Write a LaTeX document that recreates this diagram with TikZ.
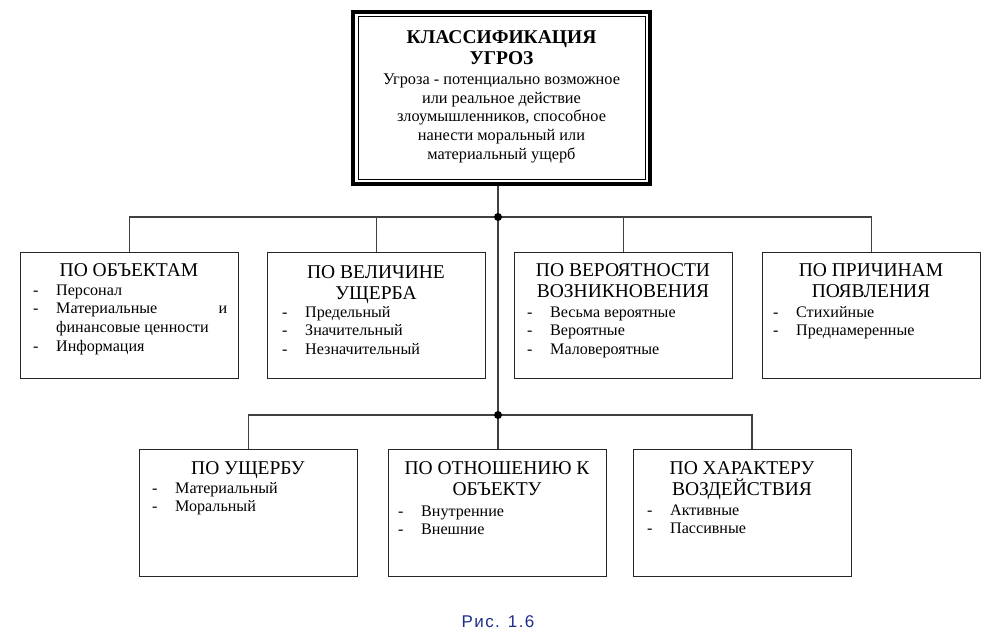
\documentclass[tikz,border=0pt]{standalone}
\usepackage{fontspec}
\setmainfont{Liberation Serif}
\newfontfamily\capfont[LetterSpace=8]{Liberation Sans}
\usetikzlibrary{calc}
\definecolor{capblue}{HTML}{1F2F8F}
\newcommand\dsh{\makebox[23pt][l]{-}}
\tikzset{
 catbox/.style={draw=black!85, line width=1.1pt, minimum width=218pt, minimum height=126pt, inner sep=0pt, anchor=north west},
 headtxt/.style={anchor=base, inner sep=0pt, font=\fontsize{19.5}{20.5}\selectfont},
 itemtxt/.style={anchor=base west, inner sep=0pt, font=\fontsize{16.1}{18.7}\selectfont},
 conn/.style={draw=black!75, line width=1.1pt},
}
\begin{document}
\begin{tikzpicture}[x=1pt,y=-1pt]
\fill[white] (0,0) rectangle (1000,639);
\useasboundingbox (0,0) rectangle (1000,639);
% top box
\node[draw, line width=3pt, minimum width=298pt, minimum height=173pt, inner sep=0pt] (top) at (501.5,98) {};
\draw[line width=1.6pt] ($(top.north west)+(3.3,3.3)$) rectangle ($(top.south east)+(-3.3,-3.3)$);
\draw[line width=1pt] ($(top.north west)+(7,7)$) rectangle ($(top.south east)+(-7,-7)$);
\node[anchor=base, inner sep=0pt, font=\bfseries\fontsize{19.5}{21}\selectfont] (tt) at (501.5,43.5)
 {\begin{tabular}[t]{@{}c@{}}КЛАССИФИКАЦИЯ\\УГРОЗ\end{tabular}};
\node[anchor=base, inner sep=0pt, font=\fontsize{16.3}{18.75}\selectfont] (tb) at (501.5,84.5)
 {\begin{tabular}[t]{@{}c@{}}Угроза - потенциально возможное\\или реальное действие\\злоумышленников, способное\\нанести моральный или\\материальный ущерб\end{tabular}};
% row 1
\node[catbox] (b1) at (20,252) {};
\node[catbox] (b2) at (267,252) {};
\node[catbox] (b3) at (514,252) {};
\node[catbox] (b4) at (762,252) {};
\node[headtxt] (h1) at (129,276.5) {ПО ОБЪЕКТАМ};
\node[headtxt] (h2) at (376,278.5) {\begin{tabular}[t]{@{}c@{}}\smash{ПО ВЕЛИЧИНЕ}\\\smash{УЩЕРБА}\end{tabular}};
\node[headtxt] (h3) at (623,276.5) {\begin{tabular}[t]{@{}c@{}}\smash{ПО ВЕРОЯТНОСТИ}\\\smash{ВОЗНИКНОВЕНИЯ}\end{tabular}};
\node[headtxt] (h4) at (871,276.5) {\begin{tabular}[t]{@{}c@{}}\smash{ПО ПРИЧИНАМ}\\\smash{ПОЯВЛЕНИЯ}\end{tabular}};
\node[itemtxt] (l1) at (33,295) {\begin{tabular}[t]{@{}l@{}}\dsh Персонал\\ \dsh\makebox[171pt][s]{Материальные\hfill и}\\ \hspace*{23pt}финансовые ценности\\ \dsh Информация\end{tabular}};
\node[itemtxt] (l2) at (282,317) {\begin{tabular}[t]{@{}l@{}}\dsh Предельный\\ \dsh Значительный\\ \dsh Незначительный\end{tabular}};
\node[itemtxt] (l3) at (527,317) {\begin{tabular}[t]{@{}l@{}}\dsh Весьма вероятные\\ \dsh Вероятные\\ \dsh Маловероятные\end{tabular}};
\node[itemtxt] (l4) at (773,317) {\begin{tabular}[t]{@{}l@{}}\dsh Стихийные\\ \dsh Преднамеренные\end{tabular}};
% row 2
\node[catbox, minimum height=127pt] (b5) at (139,449) {};
\node[catbox, minimum height=127pt] (b6) at (388,449) {};
\node[catbox, minimum height=127pt] (b7) at (633,449) {};
\node[headtxt] (h5) at (248,474.5) {ПО УЩЕРБУ};
\node[headtxt] (h6) at (497,474.5) {\begin{tabular}[t]{@{}c@{}}\smash{ПО ОТНОШЕНИЮ К}\\\smash{ОБЪЕКТУ}\end{tabular}};
\node[headtxt] (h7) at (742,474.5) {\begin{tabular}[t]{@{}c@{}}\smash{ПО ХАРАКТЕРУ}\\\smash{ВОЗДЕЙСТВИЯ}\end{tabular}};
\node[itemtxt] (l5) at (152,493) {\begin{tabular}[t]{@{}l@{}}\dsh Материальный\\ \dsh Моральный\end{tabular}};
\node[itemtxt] (l6) at (398,516) {\begin{tabular}[t]{@{}l@{}}\dsh Внутренние\\ \dsh Внешние\end{tabular}};
\node[itemtxt] (l7) at (647,515) {\begin{tabular}[t]{@{}l@{}}\dsh Активные\\ \dsh Пассивные\end{tabular}};
% connectors
\coordinate (j1) at (498,217);
\coordinate (j2) at (498,415);
\coordinate (k7) at (752,415);
\draw[conn] (top.south -| j1) -- (j2);
\draw[conn] (b1.north) -- (b1.north |- j1) -- (b4.north |- j1) -- (b4.north);
\draw[conn] (b2.north) -- (b2.north |- j1);
\draw[conn] (b3.north) -- (b3.north |- j1);
\draw[conn] (b5.north) -- (b5.north |- j2) -- (k7) -- (k7 |- b7.north);
\draw[conn] (j2) -- (j2 |- b6.north);
\fill (j1) circle[radius=4pt];
\fill (j2) circle[radius=4pt];
% caption
\node[anchor=base, inner sep=0pt, font=\capfont\fontsize{17}{19}\selectfont, text=capblue] (cap) at (498,627) {Рис. 1.6};
\end{tikzpicture}
\end{document}
